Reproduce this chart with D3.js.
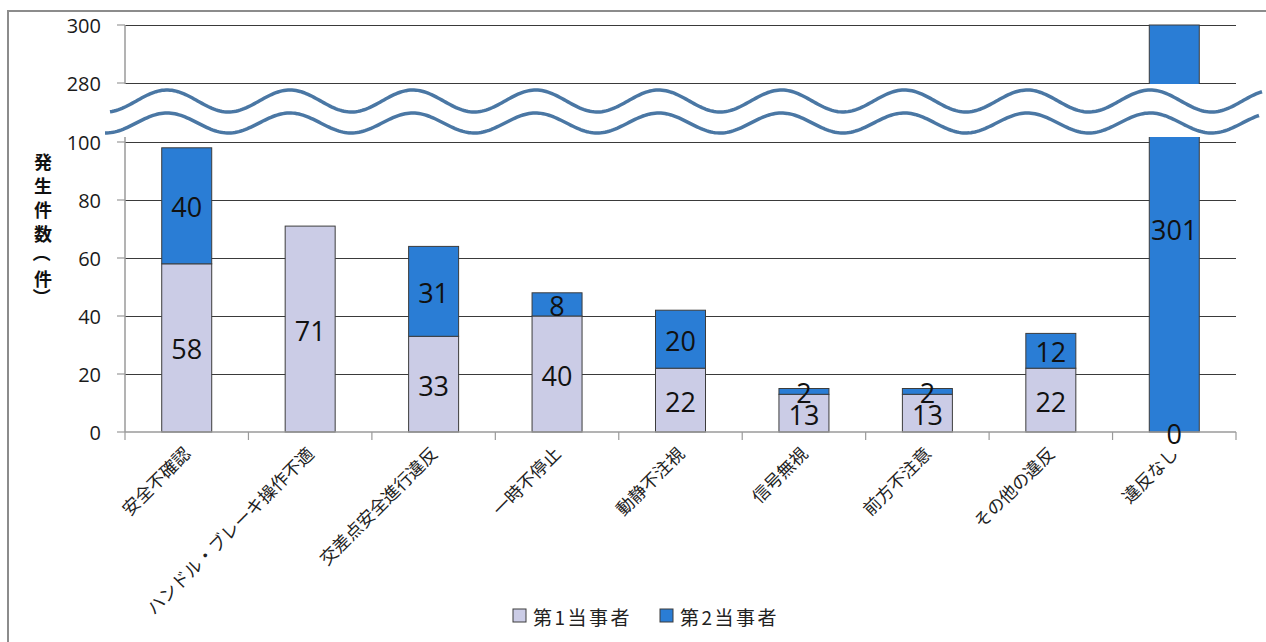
<!DOCTYPE html>
<html><head><meta charset="utf-8">
<script src="https://cdn.jsdelivr.net/npm/d3@7"></script>
<style>body{margin:0;background:#fff} svg{display:block}</style>
</head><body>
<svg id="chart" width="1266" height="642"></svg>
<script>
// 違反種別ごとの発生件数（第1当事者・第2当事者）
const categories = ["安全不確認","ハンドル・ブレーキ操作不適","交差点安全進行違反","一時不停止","動静不注視","信号無視","前方不注意","その他の違反","違反なし"];
const firstParty = [58, 71, 33, 40, 22, 13, 13, 22, 0];
const secondParty = [40, null, 31, 8, 20, 2, 2, 12, 301];
const seriesNames = ["第1当事者", "第2当事者"];
const seriesColors = ["#cbcce6", "#2a7dd5"];
const yTicks = [0, 20, 40, 60, 80, 100, 280, 300];
const yTitle = "発生件数（件）";

const svg = d3.select("#chart");
const plotL = 125, plotR = 1236, plotT = 25, plotB = 432;
const jp = "'Noto Sans CJK JP','Open Sans',sans-serif";
const num = "'Open Sans','Noto Sans',sans-serif";

// outer frame
svg.append("rect").attr("x", 8).attr("y", 11).attr("width", 1280).attr("height", 660)
  .attr("fill", "#fff").attr("stroke", "#8c8c8c").attr("stroke-width", 2);

// broken value axis: 0–100 below the break, 280–300 above it
const y = d3.scaleLinear().domain([0, 100, 280, 300]).range([plotB, 142, 83, plotT]).clamp(true);
const x = d3.scaleBand().domain(categories).range([plotL, plotR]).paddingInner(0.595).paddingOuter(0.2975);

// gridlines
svg.append("g").selectAll("line").data(yTicks.filter(d => d > 0)).join("line")
  .attr("x1", plotL).attr("x2", plotR).attr("y1", d => y(d)).attr("y2", d => y(d))
  .attr("stroke", "#3a3a3a").attr("stroke-width", 1).attr("shape-rendering", "crispEdges");

// stacked bars
const rows = categories.map((c, i) => ({cat: c, s0: firstParty[i], s1: secondParty[i]}));
const stack = d3.stack().keys(["s0", "s1"]).value((d, k) => d[k] == null ? 0 : d[k]);
const layers = stack(rows);

const gBars = svg.append("g");
layers.forEach((layer, li) => {
  gBars.selectAll(null).data(layer.filter(d => d.data[layer.key] != null && d[1] > d[0])).join("rect")
    .attr("x", d => x(d.data.cat)).attr("width", x.bandwidth())
    .attr("y", d => y(d[1])).attr("height", d => y(d[0]) - y(d[1]))
    .attr("fill", seriesColors[li]).attr("stroke", "#3c3c3c").attr("stroke-width", 1);
});

// axis lines and ticks
const axisColor = "#9a9a9a";
svg.append("line").attr("x1", plotL).attr("x2", plotL).attr("y1", plotT).attr("y2", plotB)
  .attr("stroke", axisColor).attr("stroke-width", 1.5);
svg.append("line").attr("x1", plotL).attr("x2", plotR).attr("y1", plotB).attr("y2", plotB)
  .attr("stroke", axisColor).attr("stroke-width", 1.5);
svg.append("g").selectAll("line").data(yTicks).join("line")
  .attr("x1", plotL - 8).attr("x2", plotL).attr("y1", d => y(d)).attr("y2", d => y(d))
  .attr("stroke", axisColor).attr("stroke-width", 1.2);
const bounds = d3.range(categories.length + 1).map(i => plotL + i * x.step());
svg.append("g").selectAll("line").data(bounds).join("line")
  .attr("x1", d => d).attr("x2", d => d).attr("y1", plotB).attr("y2", plotB + 8)
  .attr("stroke", axisColor).attr("stroke-width", 1.2);

// break band with double wavy line
const breakTop = y(280) + 1, breakBottom = y(100) - 5;
svg.append("rect").attr("x", 104).attr("y", breakTop).attr("width", 1160).attr("height", breakBottom - breakTop)
  .attr("fill", "#fff");
const period = 122.9, peakX = 167;
const wave = (x0, x1, cy, amp) => d3.line()(d3.range(x0, x1 + 0.5, 2).map(px =>
  [px, cy - amp * Math.cos(2 * Math.PI * (px - peakX) / period)]));
svg.append("path").attr("d", wave(110, 1262, 101, 11))
  .attr("fill", "none").attr("stroke", "#4a77a4").attr("stroke-width", 3.5);
svg.append("path").attr("d", wave(105, 1260, 123, 10))
  .attr("fill", "none").attr("stroke", "#4a77a4").attr("stroke-width", 3.5);

// value tick labels
svg.append("g").selectAll("text").data(yTicks).join("text")
  .attr("x", 101).attr("y", d => y(d)).attr("text-anchor", "end").attr("dominant-baseline", "central")
  .attr("font-family", num).attr("font-size", 20).attr("fill", "#1a1a1a").text(d => d);

// data labels
layers.forEach(layer => {
  svg.append("g").selectAll("text").data(layer.filter(d => d.data[layer.key] != null)).join("text")
    .attr("x", d => x(d.data.cat) + x.bandwidth() / 2)
    .attr("y", d => (y(d[0]) + y(d[1])) / 2 + 1)
    .attr("text-anchor", "middle").attr("dominant-baseline", "central")
    .attr("font-family", num).attr("font-size", 27).attr("fill", "#111")
    .text(d => d.data[layer.key]);
});

// category labels
svg.append("g").selectAll("text").data(categories).join("text")
  .attr("transform", d => `translate(${x(d) + x.bandwidth() / 2 + 5},455) rotate(-45)`)
  .attr("text-anchor", "end").attr("font-family", jp).attr("font-size", 17.5).attr("fill", "#222")
  .text(d => d);

// value axis title, one character per line; brackets turned a quarter
// so they open along the column
const isBracket = ch => ch === "（" || ch === "）";
const titlePos = [];
let cy = 161;
Array.from(yTitle).forEach((ch, i, arr) => {
  const next = arr[i + 1];
  if (ch === "（") { titlePos.push({ch, pos: cy - 4}); cy += 21; }
  else if (ch === "）") { titlePos.push({ch, pos: cy + 4}); cy += 24; }
  else { titlePos.push({ch, pos: cy}); cy += next === "）" ? 15 : 24; }
});
svg.append("g").selectAll("text").data(titlePos).join("text")
  .attr("transform", d => isBracket(d.ch) ? `translate(43,${d.pos}) rotate(90)` : `translate(43,${d.pos})`)
  .attr("text-anchor", "middle").attr("dominant-baseline", "central")
  .attr("font-family", jp).attr("font-size", 18).attr("font-weight", "bold").attr("fill", "#111")
  .text(d => d.ch);

// legend
const legendItems = [{x: 513, name: seriesNames[0], color: seriesColors[0]}, {x: 660, name: seriesNames[1], color: seriesColors[1]}];
const lg = svg.append("g").selectAll("g").data(legendItems).join("g");
lg.append("rect").attr("x", d => d.x).attr("y", 609).attr("width", 13).attr("height", 13)
  .attr("fill", d => d.color).attr("stroke", "#3c3c3c").attr("stroke-width", 1);
lg.append("text").attr("x", d => d.x + 20).attr("y", 616).attr("dominant-baseline", "central")
  .attr("font-family", jp).attr("font-size", 19).attr("letter-spacing", 2.5).attr("fill", "#222")
  .text(d => d.name);
</script>
</body></html>
